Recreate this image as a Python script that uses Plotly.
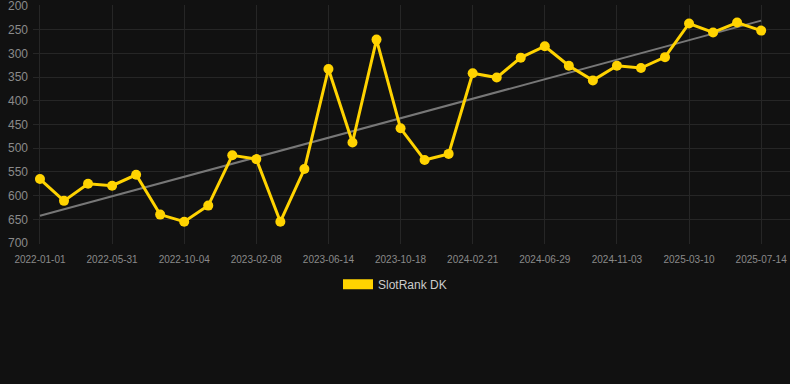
import numpy as np
import plotly.graph_objects as go

dates = ["2022-01-01", "2022-02-20", "2022-04-11", "2022-05-31", "2022-07-12", "2022-08-23",
         "2022-10-04", "2022-11-15", "2022-12-27", "2023-02-08", "2023-03-22", "2023-05-03",
         "2023-06-14", "2023-07-26", "2023-09-06", "2023-10-18", "2023-11-29", "2024-01-10",
         "2024-02-21", "2024-04-03", "2024-05-17", "2024-06-29", "2024-08-10", "2024-09-21",
         "2024-11-03", "2024-12-15", "2025-01-27", "2025-03-10", "2025-04-21", "2025-06-02",
         "2025-07-14"]
ranks = [565, 611, 575, 579, 556, 640, 655, 621, 515, 523, 655, 544, 333, 488, 271, 458,
         525, 512, 342, 351, 309, 285, 326, 357, 326, 331, 308, 237, 256, 235, 252]
tick_labels = ["2022-01-01", "2022-05-31", "2022-10-04", "2023-02-08", "2023-06-14",
               "2023-10-18", "2024-02-21", "2024-06-29", "2024-11-03", "2025-03-10",
               "2025-07-14"]
y_ticks = [200, 250, 300, 350, 400, 450, 500, 550, 600, 650, 700]
series_name = "SlotRank DK"

idx = np.arange(len(ranks))
slope, intercept = np.polyfit(idx, ranks, 1)
trend = slope * idx + intercept

GOLD = "#FFD300"
fig = go.Figure()
fig.add_trace(go.Scatter(x=dates, y=trend, mode="lines",
                         line=dict(color="#777777", width=2),
                         showlegend=False, hoverinfo="skip"))
fig.add_trace(go.Scatter(x=dates, y=ranks, mode="lines+markers",
                         line=dict(color=GOLD, width=3),
                         marker=dict(color=GOLD, size=10),
                         showlegend=False, name=series_name))
fig.add_trace(go.Scatter(x=[None], y=[None], mode="lines",
                         line=dict(color=GOLD, width=11),
                         name=series_name, showlegend=True))

fig.update_layout(
    width=790, height=384,
    paper_bgcolor="#111111", plot_bgcolor="#111111",
    margin=dict(l=33, r=0, t=5, b=140),
    font=dict(family="Liberation Sans, Arial, sans-serif", color="#8a8a8a"),
    showlegend=True,
    legend=dict(orientation="h", xref="container", x=0.5, xanchor="center",
                yref="container", y=0.26, yanchor="middle",
                font=dict(size=12, color="#cccccc"), bgcolor="rgba(0,0,0,0)"),
    xaxis=dict(type="category", categoryorder="array", categoryarray=dates,
               range=[-0.29, 31.2], tickmode="array", tickvals=tick_labels,
               ticktext=tick_labels, tickfont=dict(size=10, color="#8a8a8a"),
               ticklabelstandoff=8, ticklabeloverflow="allow",
               showgrid=True, gridcolor="#262626", gridwidth=1,
               zeroline=False, showline=False, ticks=""),
    yaxis=dict(range=[702, 198], tickmode="array", tickvals=y_ticks,
               tickfont=dict(size=12, color="#8a8a8a"),
               ticklabelstandoff=4, ticklabeloverflow="allow",
               showgrid=True, gridcolor="#262626", gridwidth=1,
               zeroline=False, showline=False, ticks=""),
)
fig.write_html("out.html", config={"displayModeBar": False},
               post_script="document.body.style.margin='0';"
                           "document.body.style.background='#111111';")
